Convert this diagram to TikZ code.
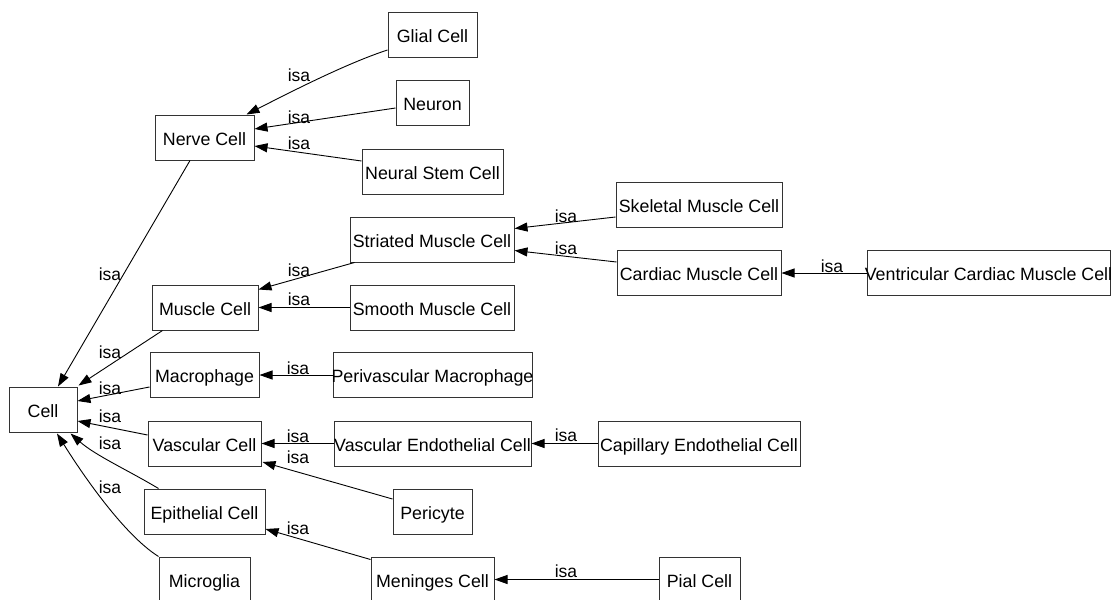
\documentclass[tikz,border=0pt]{standalone}
\usepackage{fontspec}
\setmainfont{Liberation Sans}
\usetikzlibrary{arrows.meta}
\begin{document}
\begin{tikzpicture}[x=1pt,y=-1pt,
  cls/.style={draw=black!80, line width=1pt, rectangle, inner sep=0pt,
    minimum height=45pt, text height=15pt, text depth=0pt,
    font=\fontsize{17.8}{20}\selectfont},
  isa/.style={-{Triangle[length=13pt,width=9pt]}, line width=0.9pt, black},
  lbl/.style={inner sep=0pt, font=\fontsize{17.5}{20}\selectfont}]
\useasboundingbox (0,0) rectangle (1112,600);
\clip (0,0) rectangle (1112,600);

% class boxes (text may run past the box edge)
\newcommand{\cname}[1]{\makebox[0pt]{#1}}
\node[cls, minimum width=68pt]  (cell)        at (43,409.5)   {\cname{Cell}};
\node[cls, minimum width=99pt]  (nerve)       at (204.5,137.5){\cname{Nerve Cell}};
\node[cls, minimum width=89pt]  (glial)       at (432.5,35)   {\cname{Glial Cell}};
\node[cls, minimum width=73pt]  (neuron)      at (432.5,103)  {\cname{Neuron}};
\node[cls, minimum width=141pt] (nsc)         at (432.5,171.5){\cname{Neural Stem Cell}};
\node[cls, minimum width=164pt] (striated)    at (432,239.5)  {\cname{Striated Muscle Cell}};
\node[cls, minimum width=106pt] (muscle)      at (205,307.5)  {\cname{Muscle Cell}};
\node[cls, minimum width=164pt] (smooth)      at (432,307.5)  {\cname{Smooth Muscle Cell}};
\node[cls, minimum width=109pt] (macrophage)  at (204.5,375)  {\cname{Macrophage}};
\node[cls, minimum width=199pt] (perivasc)    at (432.5,375)  {\cname{Perivascular Macrophage}};
\node[cls, minimum width=113pt] (vascular)    at (204.5,443.5){\cname{Vascular Cell}};
\node[cls, minimum width=197pt] (vasendo)     at (432.5,443.5){\cname{Vascular Endothelial Cell}};
\node[cls, minimum width=121pt] (epithelial)  at (204.5,511.5){\cname{Epithelial Cell}};
\node[cls, minimum width=79pt]  (pericyte)    at (432.5,511.5){\cname{Pericyte}};
\node[cls, minimum width=91pt]  (microglia)   at (204.5,579.5){\cname{Microglia}};
\node[cls, minimum width=123pt] (meninges)    at (432.5,579.5){\cname{Meninges Cell}};
\node[cls, minimum width=166pt] (skeletal)    at (699,205)    {\cname{Skeletal Muscle Cell}};
\node[cls, minimum width=164pt] (cardiac)     at (699,273)    {\cname{Cardiac Muscle Cell}};
\node[cls, minimum width=243pt] (ventricular) at (988.5,273)  {\cname{Ventricular Cardiac Muscle Cell}};
\node[cls, minimum width=202pt] (capillary)   at (699,443.5)  {\cname{Capillary Endothelial Cell}};
\node[cls, minimum width=81pt]  (pial)        at (699.5,579.5){\cname{Pial Cell}};

% isa relations, child -> parent
\draw[isa] ([shift={(0,15)}]glial.west) .. controls +(-40,13) and +(45,-23) .. ([shift={(-8,0)}]nerve.north east);
\draw[isa] ([shift={(0,5)}]neuron.west) -- ([shift={(0,-8.5)}]nerve.east);
\draw[isa] ([shift={(0,-10.5)}]nsc.west) -- ([shift={(0,8.5)}]nerve.east);
\draw[isa] ([shift={(-14.5,0)}]nerve.south) -- ([shift={(15,0)}]cell.north);
\draw[isa] ([shift={(5,0)}]striated.south west) -- ([shift={(0,5)}]muscle.north east);
\draw[isa] (smooth.west) -- (muscle.east);
\draw[isa] ([shift={(0,12)}]skeletal.west) -- ([shift={(0,-11)}]striated.east);
\draw[isa] ([shift={(0,-11)}]cardiac.west) -- ([shift={(0,11)}]striated.east);
\draw[isa] (ventricular.west) -- (cardiac.east);
\draw[isa] ([shift={(11,0)}]muscle.south west) -- ([shift={(1,-1)}]cell.north east);
\draw[isa] ([shift={(0,12)}]macrophage.west) -- ([shift={(0,-8.5)}]cell.east);
\draw[isa] (perivasc.west) -- (macrophage.east);
\draw[isa] ([shift={(0,-8.5)}]vascular.west) -- ([shift={(0,11.5)}]cell.east);
\draw[isa] (vasendo.west) -- (vascular.east);
\draw[isa] (capillary.west) -- (vasendo.east);
\draw[isa] ([shift={(0,-12.5)}]pericyte.west) -- ([shift={(1,18.5)}]vascular.east);
\draw[isa] ([shift={(15,0)}]epithelial.north west) .. controls +(-30,-18) and +(25,22) .. ([shift={(-7,1)}]cell.south east);
\draw[isa] ([shift={(0,3)}]meninges.north west) -- ([shift={(0,17.5)}]epithelial.east);
\draw[isa] (microglia.north west) .. controls +(-35,-22) and +(25,40) .. ([shift={(14,1)}]cell.south);
\draw[isa] (pial.west) -- (meninges.east);

% relation labels
\node[lbl] (l1)  at (299,75)  {isa};
\node[lbl] (l2)  at (299,117) {isa};
\node[lbl] (l3)  at (299,143) {isa};
\node[lbl] (l4)  at (110,274) {isa};
\node[lbl] (l5)  at (299,270) {isa};
\node[lbl] (l6)  at (299,299) {isa};
\node[lbl] (l7)  at (566,216) {isa};
\node[lbl] (l8)  at (566,248) {isa};
\node[lbl] (l9)  at (832,266) {isa};
\node[lbl] (l10) at (110,352) {isa};
\node[lbl] (l11) at (110,388) {isa};
\node[lbl] (l12) at (298,368) {isa};
\node[lbl] (l13) at (110,416) {isa};
\node[lbl] (l14) at (298,436) {isa};
\node[lbl] (l15) at (566,435) {isa};
\node[lbl] (l16) at (298,457) {isa};
\node[lbl] (l17) at (110,443) {isa};
\node[lbl] (l18) at (298,528) {isa};
\node[lbl] (l19) at (110,487) {isa};
\node[lbl] (l20) at (566,571) {isa};
\end{tikzpicture}
\end{document}
